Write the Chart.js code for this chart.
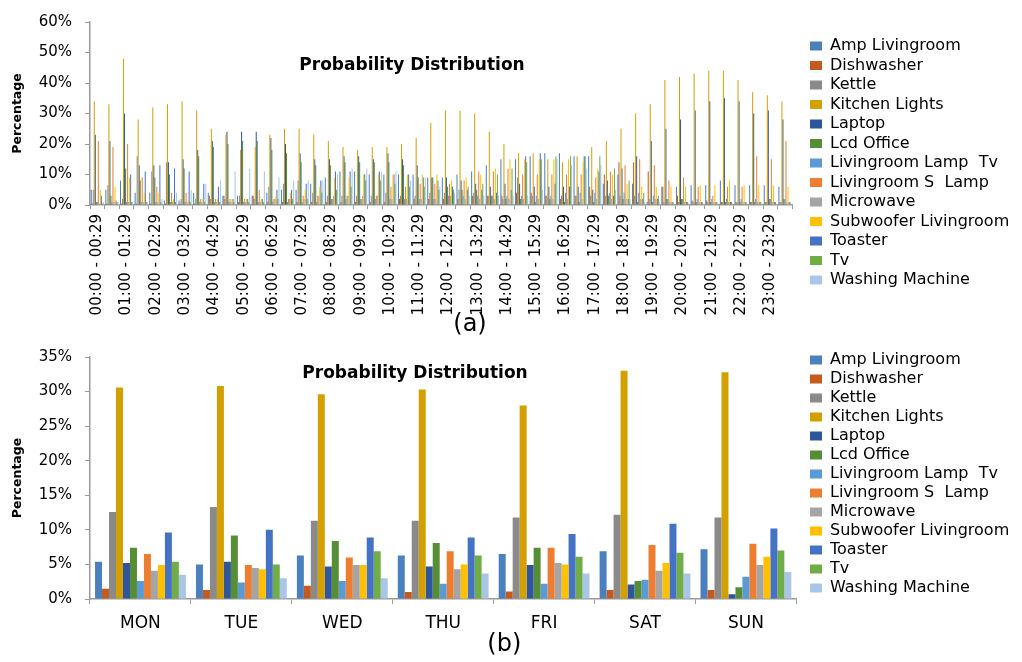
<!DOCTYPE html>
<html><head><meta charset="utf-8">
<script src="https://cdn.jsdelivr.net/npm/chart.js@4.4.1/dist/chart.umd.min.js"></script>
<style>
html,body{margin:0;padding:0;background:#fff;}
#wrap{position:relative;width:1022px;height:662px;overflow:hidden;background:#fff;}
#c1{position:absolute;left:0;top:0;}
#c2{position:absolute;left:0;top:335px;}
</style></head><body>
<div id="wrap">
<canvas id="c1" width="1022" height="340"></canvas>
<canvas id="c2" width="1022" height="327"></canvas>
</div>
<script>
// ---------- categories ----------
const halfHours = ["00:00 - 00:29","00:30 - 00:59","01:00 - 01:29","01:30 - 01:59","02:00 - 02:29","02:30 - 02:59",
"03:00 - 03:29","03:30 - 03:59","04:00 - 04:29","04:30 - 04:59","05:00 - 05:29","05:30 - 05:59",
"06:00 - 06:29","06:30 - 06:59","07:00 - 07:29","07:30 - 07:59","08:00 - 08:29","08:30 - 08:59",
"09:00 - 09:29","09:30 - 09:59","10:00 - 10:29","10:30 - 10:59","11:00 - 11:29","11:30 - 11:59",
"12:00 - 12:29","12:30 - 12:59","13:00 - 13:29","13:30 - 13:59","14:00 - 14:29","14:30 - 14:59",
"15:00 - 15:29","15:30 - 15:59","16:00 - 16:29","16:30 - 16:59","17:00 - 17:29","17:30 - 17:59",
"18:00 - 18:29","18:30 - 18:59","19:00 - 19:29","19:30 - 19:59","20:00 - 20:29","20:30 - 20:59",
"21:00 - 21:29","21:30 - 21:59","22:00 - 22:29","22:30 - 22:59","23:00 - 23:29","23:30 - 23:59"];
const weekdays = ["MON","TUE","WED","THU","FRI","SAT","SUN"];
const seriesNames = ["Amp Livingroom","Dishwasher","Kettle","Kitchen Lights","Laptop","Lcd Office",
"Livingroom Lamp  Tv","Livingroom S  Lamp","Microwave","Subwoofer Livingroom","Toaster","Tv","Washing Machine"];

// ---------- (a) half-hour values, % ----------
const hAmp     = [5,5,8,4,4,1.5,1.5,4,4,3,3,3, 4,5,5,7,9,11,11,10,10,10,10,9, 9,10,11,13,15,15,16,17,17,16,16,7, 10,7,1,6,6,6.5,6.5,8,6.5,6.5,6.5,6];
const hDish    = [0.5,0.5,0.5,0.5,0.5,0.5,0.5,0.5,3,3,1,3, 1,1,1,1,1,1,1,1,1,2,2,2, 2,2,3,3,3,4,4,3,2,3,6,10, 14,14,11,6,3,1.5,1.5,1,1,1,1,1];
const hKettle  = [5,6.5,2,16,11,14,2,2,2,2,3,2, 6,7,8,4,3,3,3,3,4,3,3,4, 4,5,4,3,2,9,3,3,3,3,3,3, 3,3,2,1,1,1,1,1,1,1,1,1];
const hKitchen = [34,33,48,28,32,33,34,31,25,23,18,19, 23,25,25,23,21,19,18,19,19,20,22,27, 31,31,30,24,20,17,17,15,14,16,19,21, 25,30,33,41,42,43,44,44,41,37,36,34];
const hLaptop  = [23,21,30,13,13,14,15,18,21,24,24,24, 22,20,17,15,15,16,16,15,17,15,13,9, 9,8,7,6,7,7,6,6,6,6,5,8, 12,16,21,25,28,31,34,35,34,30,31,28];
const hLcd     = [1,3,12,8,9,10,12,16,19,20,21,21, 18,17,14,13,13,14,14,14,14,13,9,9, 6,5,5,3,2,2,1,2,1,1,1,3, 2,1,1,2,2,1,1,1,1,1,2,2];
const hLampTv  = [1,1,1,1,1,1,1,1,1,1,1,1, 1,1,1,1,2,2,2,2,2,2,2,2, 3,3,3,3,3,3,3,3,4,4,4,4, 4,4,3,2,2,2,2,2,2,2,2,2];
const hSLamp   = [21,19,20,9,6,4,4,2,2,2,2,5, 2,2,3,3,2,3,2,3,6,6,7,7, 7,8,11,11,12,10,10,10,10,10,9,11, 13,15,13,8,9,6,3,6,6,16,15,21];
const hMicro   = [0.5,1,1,1,1,1,1,1,1,1,1,1, 2,2,2,3,3,3,3,3,2,2,2,2, 3,2,2,2,2,2,2,2,2,2,2,2, 2,2,2,1,1,1,1,1,1,1,1,1];
const hSub     = [5,6,9,4,4,2,1.5,2,2,2,2,2, 3,4,5,6,9,9,10,10,10,10,10,10, 8,9,10,12,15,15,15,15,15,14,12,10, 7,6,6,6,6,6.5,6.5,8,6.5,6.5,6.5,6];
const hToaster = [3,1.5,10,11,13,12,11,7,6,2,2,2, 5,5,7,8,11,11,10,11,10,10,9,8, 6,5,5,4,5,16,17,7,6,16,11,3, 2,2,2,1,1,1,1,1,1,1,1,1];
const hTv      = [0.5,1,1,1,1,1,1,1,1,1,1,1, 2,2,2,4,5,6,8,8,7,6,6,5, 5,6,7,10,12,14,15,16,16,16,16,12, 8,4,3,1,1,1,1,1,1,1,1,1];
const hWash    = [1,1,1,1,2,4,5,7,8,11,12,11, 9,8,8,8,10,12,12,11,11,8,9,6, 4,3,3,3,3,3,5,15,13,12,13,5, 2,1,1,0.5,0.5,0.5,0.5,0.5,0.5,0.5,0.5,0.5];

// ---------- (b) weekday values, % ----------
const dAmp     = [5.4,5.0,6.3,6.3,6.5,6.9,7.2];
const dDish    = [1.5,1.3,1.9,1.0,1.1,1.3,1.3];
const dKettle  = [12.6,13.3,11.3,11.3,11.8,12.2,11.8];
const dKitchen = [30.6,30.8,29.6,30.3,28.0,33.0,32.8];
const dLaptop  = [5.2,5.4,4.7,4.7,4.9,2.1,0.7];
const dLcd     = [7.4,9.2,8.4,8.1,7.4,2.6,1.7];
const dLampTv  = [2.6,2.4,2.6,2.2,2.2,2.8,3.2];
const dSLamp   = [6.5,4.9,6.0,6.9,7.4,7.8,8.0];
const dMicro   = [4.1,4.5,4.9,4.3,5.2,4.1,4.9];
const dSub     = [4.9,4.3,4.9,5.0,5.0,5.2,6.1];
const dToaster = [9.6,10.0,8.9,8.9,9.4,10.9,10.2];
const dTv      = [5.4,5.0,6.9,6.3,6.1,6.7,7.0];
const dWash    = [3.5,3.0,3.0,3.7,3.7,3.7,3.9];

// ---------- styling ----------
const seriesColors = ["#4a80bd","#c55a1e","#8a8a8a","#d4a000","#2f569c","#568e36",
"#5b9bd5","#ed7d31","#a5a5a5","#ffc000","#4472c4","#70ad47","#a9c5e8"];
const FONT = "'DejaVu Sans', sans-serif";
const AXIS = "#9a9a9a";
Chart.defaults.color = "#000";

function makeDatasets(arrays){
  return arrays.map((d,i)=>({label:seriesNames[i], data:d, backgroundColor:seriesColors[i],
    borderColor:seriesColors[i], borderWidth:0}));
}

// free-floating texts: chart heading inside the plot, and optional caption
const freeText = {
  id:'freeText',
  afterDraw(chart, args, opts){
    const ctx = chart.ctx;
    ctx.save();
    ctx.fillStyle = "#000";
    ctx.textAlign = "center";
    ctx.textBaseline = "middle";
    for (const t of opts.items) {
      ctx.font = t.font;
      ctx.fillText(t.text, t.x, t.y);
    }
    ctx.restore();
  }
};
// move the legend block so its colour boxes start at a fixed x
const legendShift = {
  id:'legendShift',
  afterLayout(chart, args, opts){
    const lg = chart.legend;
    if (!lg) return;
    const pad = lg.options.labels.padding;
    const d = opts.boxX - (lg.left + pad);
    lg.left += d; lg.right += d;
  }
};

function buildChart(canvasId, cfg){
  return new Chart(document.getElementById(canvasId), {
    type:'bar',
    data:{labels:cfg.labels, datasets:makeDatasets(cfg.series)},
    options:{
      responsive:false, animation:false, devicePixelRatio:1,
      layout:{padding:{top:14,left:0,right:cfg.padRight,bottom:cfg.padBottom}},
      datasets:{bar:{categoryPercentage:0.9, barPercentage:1.0}},
      scales:{
        x:{
          grid:{offset:true, drawOnChartArea:false, tickLength:cfg.xTickLen, color:AXIS, lineWidth:1},
          border:{color:AXIS, width:1.5},
          ticks:cfg.xTicks,
          afterFit(s){ s.height = cfg.xHeight; }
        },
        y:{
          min:0, max:cfg.yMax,
          ticks:{stepSize:cfg.yStep, callback:v=>v+'%', font:{family:FONT,size:15}, color:'#000', padding:13},
          grid:{drawOnChartArea:false, tickLength:5, color:AXIS},
          border:{color:AXIS, width:1.5},
          title:{display:true, text:'Percentage', font:{family:FONT,size:12.5,weight:'bold'}, color:'#000', padding:{top:10.5,bottom:0}},
          afterFit(s){ s.width = 90; }
        }
      },
      plugins:{
        legend:{position:'right', align:'start',
          title:cfg.legendTitle,
          labels:{boxWidth:12, boxHeight:9, padding:cfg.legendPad, font:{family:FONT,size:16}, color:'#000'}},
        title:cfg.caption,
        tooltip:{enabled:false},
        freeText:{items:cfg.freeTexts},
        legendShift:{boxX:810}
      }
    },
    plugins:[freeText, legendShift]
  });
}

buildChart('c1', {
  labels:halfHours,
  series:[hAmp,hDish,hKettle,hKitchen,hLaptop,hLcd,hLampTv,hSLamp,hMicro,hSub,hToaster,hTv,hWash],
  padRight:17, padBottom:23, xTickLen:4, xHeight:112,
  xTicks:{autoSkip:false, maxRotation:90, minRotation:90, padding:5, font:{family:FONT,size:15}, color:'#000',
    callback(v,i){ return i%2===0 ? this.getLabelForValue(v) : ''; }},
  yMax:60, yStep:10,
  legendTitle:{display:true, text:' ', font:{size:10}, padding:{top:8.5,bottom:0}},
  legendPad:3.5,
  caption:{display:false},
  freeTexts:[
    {text:'Probability Distribution', x:412, y:66, font:"bold 17px " + FONT},
    {text:'(a)', x:470, y:325, font:"24px " + FONT}
  ]
});

buildChart('c2', {
  labels:weekdays,
  series:[dAmp,dDish,dKettle,dKitchen,dLaptop,dLcd,dLampTv,dSLamp,dMicro,dSub,dToaster,dTv,dWash],
  padRight:13.4, padBottom:0, xTickLen:5, xHeight:30,
  xTicks:{autoSkip:false, maxRotation:0, minRotation:0, padding:9, font:{family:FONT,size:17}, color:'#000'},
  yMax:35, yStep:5,
  legendTitle:{display:false},
  legendPad:3,
  caption:{display:true, position:'bottom', text:'(b)', color:'#000',
    font:{family:FONT,size:24,weight:'normal'}, padding:{top:1.6,bottom:2.6}},
  freeTexts:[
    {text:'Probability Distribution', x:415, y:39, font:"bold 17px " + FONT}
  ]
});
</script>
</body></html>
